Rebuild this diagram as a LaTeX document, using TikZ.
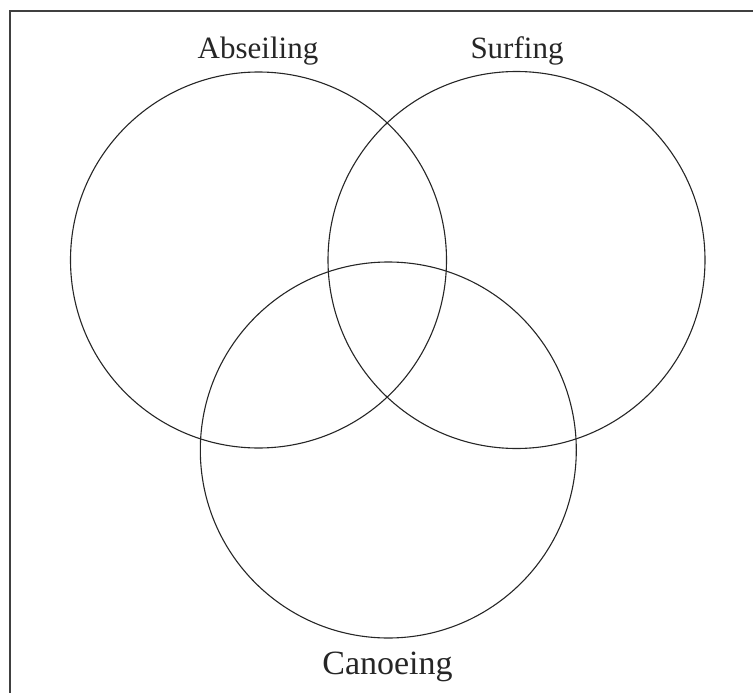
\documentclass[tikz,border=0pt]{standalone}
\usepackage{fontspec}
\setmainfont{Liberation Serif}
\begin{document}
\begin{tikzpicture}[x=1pt,y=-1pt,
  setcircle/.style={draw=black!85,line width=1.1pt},
  setlabel/.style={inner sep=0pt,anchor=base,font=\fontsize{31}{31}\selectfont,text=black!85},
  frameline/.style={draw=black!75,line width=1.3pt}]
\useasboundingbox (0,0) rectangle (753,693);
\draw[frameline] (10,693) -- (10,11) -- (753,11);
\node[setcircle,circle,minimum size=376pt,inner sep=0pt] (A) at (258.5,260) {};
\node[setcircle,circle,minimum size=377pt,inner sep=0pt] (S) at (516.5,260) {};
\node[setcircle,circle,minimum size=376pt,inner sep=0pt] (C) at (388.3,450) {};
\node[setlabel] (la) at (258,59) {Abseiling};
\node[setlabel] (ls) at (517,59) {Surfing};
\node[setlabel,font=\fontsize{34}{34}\selectfont] (lc) at (387.5,674) {Canoeing};
\end{tikzpicture}
\end{document}
